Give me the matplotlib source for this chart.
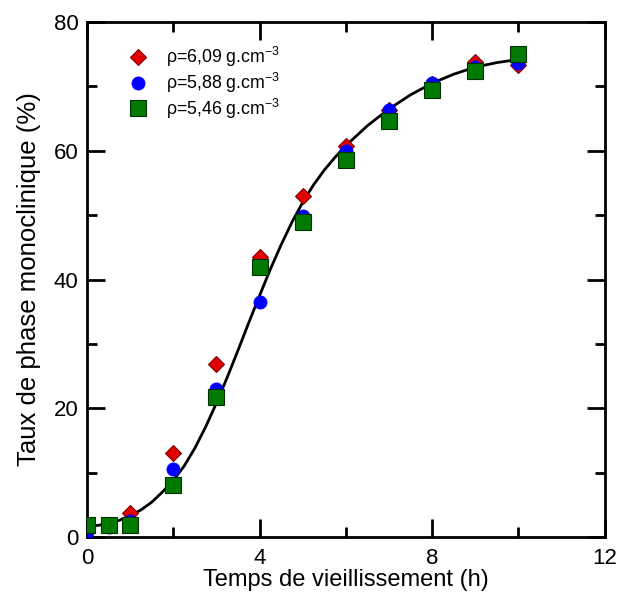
import matplotlib
matplotlib.use("Agg")
import matplotlib.pyplot as plt
from matplotlib.ticker import MultipleLocator

plt.rcParams['font.family'] = ['Liberation Sans', 'DejaVu Sans']
plt.rcParams['mathtext.fontset'] = 'custom'
plt.rcParams['mathtext.rm'] = 'Liberation Sans'

# Data
t = [0, 0.5, 1, 2, 3, 4, 5, 6, 7, 8, 9, 10]
rho_609 = [1.5, 1.8, 3.8, 13.0, 26.8, 43.5, 53.0, 60.8, 66.3, 70.3, 73.8, 73.3]
rho_588 = [0.8, 1.6, 2.5, 10.6, 23.0, 36.5, 49.8, 60.0, 66.3, 70.5, 73.0, 73.6]
rho_546 = [1.9, 1.9, 1.9, 8.1, 21.7, 42.0, 48.9, 58.5, 64.6, 69.4, 72.4, 75.0]

fit_t = [0, 0.25, 0.5, 0.75, 1, 1.25, 1.5, 1.75, 2, 2.25, 2.5, 2.75, 3, 3.25, 3.5,
         3.75, 4, 4.25, 4.5, 4.75, 5, 5.25, 5.5, 5.75, 6, 6.5, 7, 7.5, 8, 8.5,
         9, 9.5, 10]
fit_y = [1.7, 1.8, 2.1, 2.6, 3.3, 4.2, 5.4, 7.0, 8.8, 11.0, 13.8, 17.1, 20.8,
         24.8, 29.0, 33.3, 37.5, 41.6, 45.4, 48.9, 52.0, 54.7, 57.0, 59.0, 60.8,
         63.9, 66.5, 68.7, 70.5, 71.9, 73.0, 73.7, 74.2]

labels = ['ρ=6,09 g.cm$^{\\mathregular{-3}}$',
          'ρ=5,88 g.cm$^{\\mathregular{-3}}$',
          'ρ=5,46 g.cm$^{\\mathregular{-3}}$']

fig = plt.figure(figsize=(6.19, 5.96), dpi=100)
ax = fig.add_axes([0.1405, 0.099, 0.8365, 0.864])

ax.plot(fit_t, fit_y, color='black', lw=2, zorder=2)
ax.plot(t, rho_609, 'D', color='#e00000', mec='#800000', mew=0.8, ms=8.5, zorder=3, label=labels[0])
ax.plot(t, rho_588, 'o', color='#0000ff', mec='#0000ff', mew=0.5, ms=9.5, zorder=4, label=labels[1])
ax.plot(t, rho_546, 's', color='#007a00', mec='#003000', mew=0.8, ms=11, zorder=5, label=labels[2])

ax.set_xlim(0, 12)
ax.set_ylim(0, 80)
ax.xaxis.set_major_locator(MultipleLocator(4))
ax.xaxis.set_minor_locator(MultipleLocator(2))
ax.yaxis.set_major_locator(MultipleLocator(20))
ax.yaxis.set_minor_locator(MultipleLocator(10))
ax.tick_params(which='both', direction='in', top=True, right=True, width=2, labelsize=16)
ax.tick_params(axis='x', pad=8)
ax.tick_params(axis='y', pad=6)
ax.tick_params(which='major', length=13)
ax.tick_params(which='minor', length=7.5)
for s in ax.spines.values():
    s.set_linewidth(2)

ax.set_xlabel('Temps de vieillissement (h)', fontsize=17, labelpad=0)
ax.set_ylabel('Taux de phase monoclinique (%)', fontsize=18.5, labelpad=9)

ax.legend(loc='upper left', bbox_to_anchor=(0.04, 0.98), frameon=False, fontsize=12.8,
          handletextpad=0.6, labelspacing=0.1, borderaxespad=0.3)

fig.savefig('out.png', dpi=100)
